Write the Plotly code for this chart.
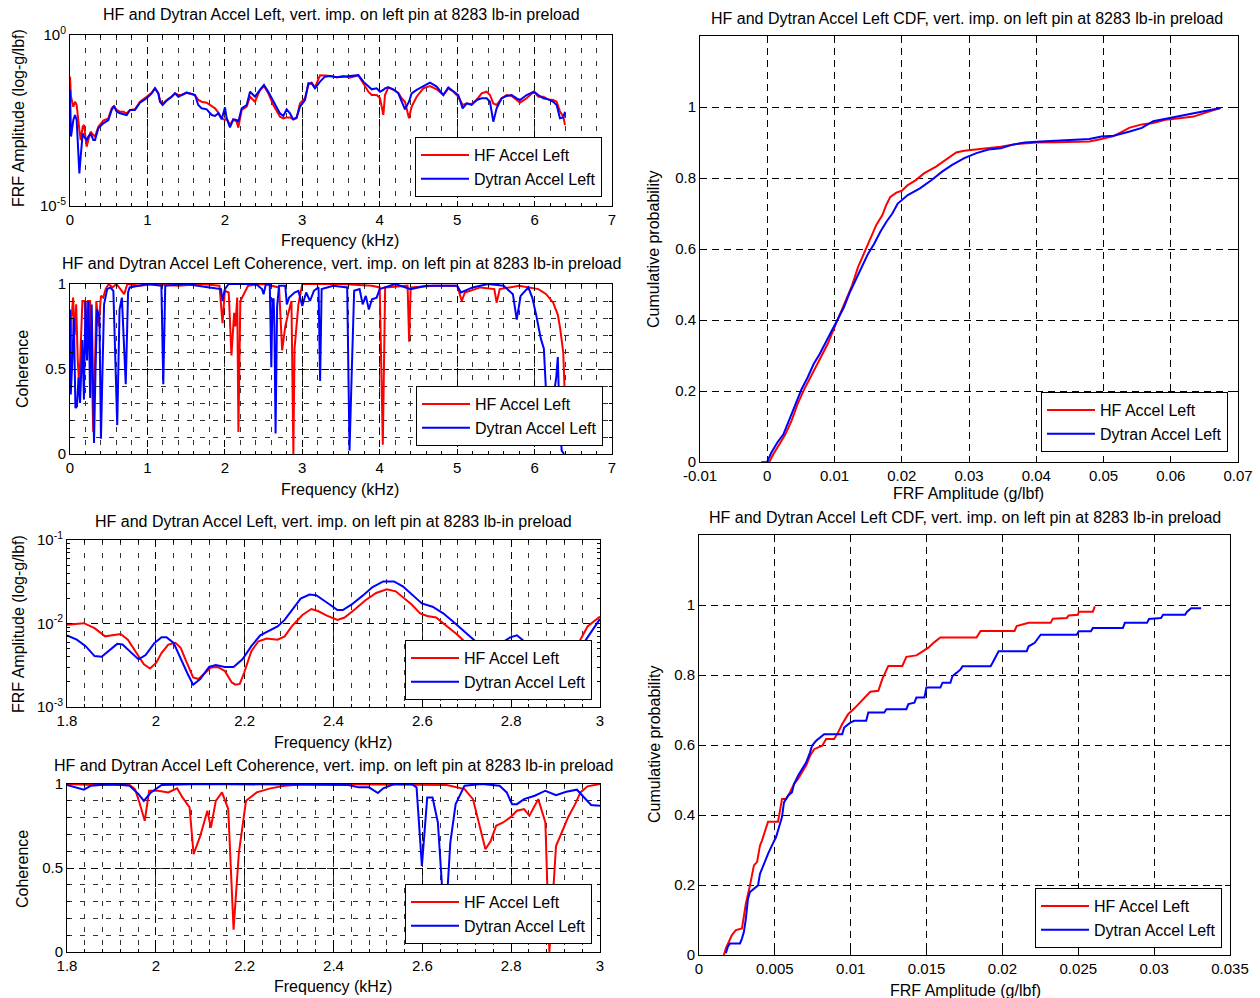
import plotly.graph_objects as go

W, H = 1260, 998
FONT = "Liberation Sans, Arial, Helvetica, sans-serif"
RED = "#ff0000"
BLUE = "#0000ff"
NAME_HF = "HF Accel Left"
NAME_DY = "Dytran Accel Left"
TITLE = "HF and Dytran Accel Left, vert. imp. on left pin at 8283 lb-in preload"
TITLE_COH = "HF and Dytran Accel Left Coherence, vert. imp. on left pin at 8283 lb-in preload"
TITLE_CDF = "HF and Dytran Accel Left CDF, vert. imp. on left pin at 8283 lb-in preload"

# ---------------- FRF magnitude, full band (kHz, g/lbf) ----------------
frf_freq = [0.000, 0.013, 0.043, 0.065, 0.086, 0.108, 0.121, 0.138, 0.164, 0.181,
            0.215, 0.237, 0.267, 0.301, 0.323, 0.366, 0.430, 0.495, 0.538, 0.568,
            0.603, 0.646, 0.689, 0.732, 0.775, 0.839, 0.904, 0.990, 1.055, 1.098,
            1.141, 1.162, 1.197, 1.248, 1.313, 1.356, 1.399, 1.442, 1.507, 1.571,
            1.614, 1.657, 1.700, 1.765, 1.830, 1.873, 1.916, 1.959, 2.002, 2.023,
            2.066, 2.109, 2.152, 2.174, 2.217, 2.282, 2.325, 2.368, 2.389, 2.454,
            2.505, 2.561, 2.626, 2.712, 2.755, 2.798, 2.841, 2.884, 2.927, 2.970,
            3.035, 3.078, 3.121, 3.164, 3.229, 3.293, 3.358, 3.444, 3.530, 3.616,
            3.724, 3.788, 3.853, 3.896, 3.961, 4.004, 4.047, 4.068, 4.111, 4.176,
            4.240, 4.283, 4.326, 4.378, 4.412, 4.477, 4.563, 4.649, 4.736, 4.822,
            4.886, 4.951, 5.015, 5.071, 5.123, 5.187, 5.252, 5.316, 5.381, 5.424,
            5.467, 5.510, 5.575, 5.639, 5.704, 5.769, 5.811, 5.897, 5.992, 6.048,
            6.113, 6.177, 6.242, 6.285, 6.328, 6.371, 6.393]
frf_hf = [0.0605, 0.0157, 0.0080, 0.0112, 0.0090, 0.00209, 0.00167, 0.00085, 0.00209, 0.00234,
          0.00054, 0.00085, 0.00149, 0.00119, 0.00107, 0.00209, 0.00313, 0.00366, 0.00717, 0.00839,
          0.00641, 0.00573, 0.00573, 0.00512, 0.00641, 0.00671, 0.0112, 0.0157, 0.0206, 0.0276,
          0.0197, 0.0126, 0.0096, 0.0126, 0.0157, 0.0197, 0.0176, 0.0176, 0.0206, 0.0188,
          0.0176, 0.0126, 0.0112, 0.0105, 0.00839, 0.00717, 0.00536, 0.00366, 0.00327, 0.00366,
          0.00234, 0.00342, 0.00292, 0.00195, 0.00641, 0.00802, 0.0157, 0.0126, 0.0112, 0.0247,
          0.0323, 0.0197, 0.0090, 0.0041, 0.00366, 0.0039, 0.0039, 0.0034, 0.0037, 0.0100,
          0.0141, 0.0345, 0.0404, 0.0295, 0.0660, 0.0650, 0.0633, 0.0578, 0.0633, 0.0565,
          0.0660, 0.0386, 0.0220, 0.0176, 0.0176, 0.0141, 0.00458, 0.0176, 0.0295, 0.0247,
          0.0206, 0.0141, 0.0112, 0.00366, 0.0080, 0.0157, 0.0276, 0.0323, 0.0258, 0.0176,
          0.0276, 0.0220, 0.0157, 0.0090, 0.0100, 0.0096, 0.0126, 0.0197, 0.0220, 0.0176,
          0.0100, 0.0090, 0.0141, 0.0176, 0.0165, 0.0126, 0.0105, 0.0141, 0.0220, 0.0157,
          0.0157, 0.0131, 0.0126, 0.0112, 0.00573, 0.0041, 0.00234]
frf_dytran = [0.0247, 0.00107, 0.00327, 0.00458, 0.00327, 0.00054, 0.00009, 0.00028, 0.00133, 0.00107,
              0.00085, 0.00107, 0.00133, 0.00085, 0.00085, 0.00187, 0.00261, 0.00327, 0.00641, 0.00839,
              0.00573, 0.00512, 0.00490, 0.00458, 0.00641, 0.00641, 0.0105, 0.0141, 0.0197, 0.0276,
              0.0197, 0.0112, 0.0090, 0.0120, 0.0157, 0.0197, 0.0157, 0.0176, 0.0206, 0.0188,
              0.0176, 0.0090, 0.00717, 0.00671, 0.00458, 0.00428, 0.00512, 0.00342, 0.00767, 0.00366,
              0.00200, 0.00342, 0.00327, 0.00292, 0.00717, 0.00898, 0.0220, 0.0176, 0.0157, 0.0247,
              0.0345, 0.0220, 0.0112, 0.0051, 0.00428, 0.0067, 0.0051, 0.0034, 0.0039, 0.0080,
              0.0126, 0.0386, 0.0386, 0.0276, 0.0432, 0.0605, 0.0633, 0.0578, 0.0605, 0.0633,
              0.0670, 0.0432, 0.0309, 0.0258, 0.0276, 0.0220, 0.0247, 0.0276, 0.0295, 0.0258,
              0.0197, 0.0112, 0.0067, 0.0112, 0.0197, 0.0247, 0.0309, 0.0404, 0.0309, 0.0176,
              0.0295, 0.0220, 0.0176, 0.00717, 0.0100, 0.0090, 0.0126, 0.0141, 0.0141, 0.0112,
              0.00292, 0.00717, 0.0141, 0.0165, 0.0176, 0.0141, 0.0126, 0.0176, 0.0220, 0.0176,
              0.0141, 0.0131, 0.0112, 0.0090, 0.00366, 0.0039, 0.00573]

# ---------------- Coherence, full band ----------------
coh_freq_hf = [0.00, 0.02, 0.04, 0.06, 0.08, 0.10, 0.12, 0.14, 0.16, 0.19,
               0.21, 0.23, 0.26, 0.28, 0.30, 0.32, 0.34, 0.37, 0.40, 0.43,
               0.46, 0.50, 0.55, 0.60, 0.65, 0.70, 0.74, 0.90, 1.10, 1.40,
               1.70, 1.93, 1.97, 2.00, 2.05, 2.085, 2.12, 2.135, 2.16, 2.175,
               2.20, 2.30, 2.50, 2.70, 2.74, 2.78, 2.82, 2.86, 2.885, 2.90,
               2.95, 3.00, 3.50, 3.90, 4.00, 4.04, 4.07, 4.36, 4.38, 4.40,
               4.70, 5.00, 5.06, 5.10, 5.30, 5.48, 5.51, 5.55, 5.80, 5.95,
               6.05, 6.15, 6.24, 6.30, 6.33, 6.37, 6.39, 6.40]
coh_hf = [0.45, 0.80, 0.92, 0.70, 0.88, 0.55, 0.40, 0.62, 0.90, 0.90,
          0.70, 0.90, 0.90, 0.55, 0.13, 0.45, 0.90, 0.75, 0.93, 0.92,
          0.97, 1.00, 0.98, 1.00, 0.97, 0.94, 1.00, 0.99, 1.00, 0.99,
          1.00, 0.99, 0.77, 0.96, 0.95, 0.58, 0.83, 0.75, 0.92, 0.13,
          0.90, 0.99, 1.00, 0.98, 0.61, 0.75, 0.83, 0.90, 0.00, 0.62,
          0.88, 1.00, 1.00, 0.99, 0.98, 0.055, 0.98, 0.99, 0.66, 0.98,
          0.99, 0.99, 0.90, 0.95, 0.98, 0.97, 0.89, 0.97, 0.99, 0.98,
          0.97, 0.94, 0.89, 0.82, 0.74, 0.60, 0.35, 0.05]
coh_freq_dy = [0.00, 0.01, 0.03, 0.05, 0.07, 0.09, 0.11, 0.13, 0.16, 0.18,
               0.20, 0.22, 0.24, 0.26, 0.28, 0.31, 0.33, 0.35, 0.38, 0.40,
               0.42, 0.44, 0.48, 0.52, 0.56, 0.61, 0.64, 0.67, 0.72, 0.75,
               0.77, 1.00, 1.18, 1.205, 1.23, 1.50, 1.80, 1.95, 1.97, 2.00,
               2.05, 2.40, 2.48, 2.50, 2.53, 2.58, 2.60, 2.615, 2.63, 2.64,
               2.655, 2.675, 2.70, 2.78, 2.80, 2.83, 2.90, 2.95, 3.00, 3.05,
               3.10, 3.15, 3.21, 3.23, 3.25, 3.40, 3.58, 3.61, 3.64, 3.67,
               3.74, 3.78, 3.82, 3.86, 3.90, 3.96, 4.00, 4.20, 4.40, 4.60,
               5.00, 5.05, 5.20, 5.40, 5.60, 5.72, 5.77, 5.82, 5.92, 5.97,
               6.02, 6.08, 6.12, 6.15, 6.20, 6.25, 6.28, 6.30, 6.32, 6.35,
               6.38]
coh_dy = [0.85, 0.35, 0.55, 0.80, 0.27, 0.28, 0.45, 0.30, 0.67, 0.32,
          0.90, 0.55, 0.90, 0.33, 0.88, 0.065, 0.50, 0.85, 0.80, 0.09,
          0.50, 0.88, 0.97, 0.98, 0.96, 0.17, 0.85, 0.92, 0.41, 0.95,
          0.98, 1.00, 0.99, 0.41, 0.99, 1.00, 0.98, 0.97, 0.90, 0.97,
          1.00, 1.00, 0.97, 0.94, 1.00, 1.00, 0.51, 0.91, 0.91, 0.75,
          0.12, 0.87, 0.99, 0.99, 0.88, 0.92, 0.95, 0.96, 0.87, 0.95,
          0.90, 0.96, 0.98, 0.43, 0.97, 0.99, 0.98, 0.02, 0.50, 0.96,
          0.97, 0.88, 0.93, 0.85, 0.91, 0.92, 0.97, 1.00, 0.97, 0.99,
          0.99, 0.95, 0.98, 1.00, 0.99, 0.94, 0.79, 0.93, 0.98, 0.92,
          0.82, 0.68, 0.62, 0.35, 0.20, 0.35, 0.45, 0.57, 0.25, 0.02,
          0.00]

# ---------------- FRF magnitude, 1.8-3 kHz band ----------------
zfrf_freq_hf = [1.800, 1.814, 1.838, 1.862, 1.886, 1.902, 1.921, 1.937, 1.953, 1.973,
                1.987, 2.001, 2.013, 2.028, 2.044, 2.056, 2.068, 2.084, 2.096, 2.108,
                2.124, 2.139, 2.155, 2.171, 2.179, 2.189, 2.199, 2.215, 2.231, 2.250,
                2.274, 2.290, 2.306, 2.330, 2.350, 2.365, 2.385, 2.409, 2.425, 2.449,
                2.472, 2.496, 2.520, 2.540, 2.560, 2.576, 2.595, 2.611, 2.631, 2.655,
                2.679, 2.702, 2.734, 2.774, 2.813, 2.853, 2.893, 2.924, 2.944, 2.972,
                3.000]
zfrf_hf = [0.00964, 0.00982, 0.01009, 0.00881, 0.00702, 0.00722, 0.00748, 0.00641, 0.00467, 0.00325,
           0.00289, 0.00340, 0.00446, 0.00560, 0.00586, 0.00511, 0.00356, 0.00226, 0.00216, 0.00247,
           0.00297, 0.00302, 0.00271, 0.00197, 0.00185, 0.00189, 0.00259, 0.00467, 0.00613, 0.00659,
           0.00641, 0.00702, 0.00922, 0.01266, 0.01490, 0.01411, 0.01243, 0.01105, 0.01178, 0.01490,
           0.01903, 0.02323, 0.02567, 0.02430, 0.01991, 0.01691, 0.01324, 0.01232, 0.01178, 0.00922,
           0.00735, 0.00560, 0.00489, 0.00407, 0.00372, 0.00356, 0.00340, 0.00390, 0.00489, 0.00922,
           0.01210]
zfrf_freq_dy = [1.800, 1.822, 1.842, 1.862, 1.878, 1.894, 1.913, 1.925, 1.941, 1.961,
                1.977, 1.997, 2.013, 2.024, 2.040, 2.056, 2.072, 2.084, 2.100, 2.120,
                2.135, 2.155, 2.175, 2.195, 2.215, 2.235, 2.258, 2.274, 2.290, 2.310,
                2.326, 2.346, 2.361, 2.385, 2.409, 2.421, 2.441, 2.465, 2.488, 2.512,
                2.536, 2.556, 2.576, 2.599, 2.623, 2.647, 2.671, 2.695, 2.718, 2.738,
                2.758, 2.778, 2.798, 2.813, 2.829, 2.849, 2.877, 2.909, 2.936, 2.956,
                2.980, 3.000]
zfrf_dy = [0.00722, 0.00641, 0.00535, 0.00407, 0.00400, 0.00467, 0.00570, 0.00560, 0.00467, 0.00372,
           0.00419, 0.00586, 0.00683, 0.00683, 0.00586, 0.00372, 0.00247, 0.00185, 0.00216, 0.00302,
           0.00319, 0.00302, 0.00302, 0.00372, 0.00535, 0.00722, 0.00841, 0.00922, 0.01105, 0.01518,
           0.01991, 0.02221, 0.02181, 0.01786, 0.01450, 0.01450, 0.01691, 0.02141, 0.02735, 0.03190,
           0.03190, 0.02786, 0.02221, 0.01738, 0.01587, 0.01324, 0.01037, 0.00804, 0.00613, 0.00502,
           0.00502, 0.00586, 0.00683, 0.00722, 0.00613, 0.00467, 0.00372, 0.00340, 0.00407, 0.00511,
           0.00804, 0.01135]

# ---------------- Coherence, 1.8-3 kHz band ----------------
zcoh_freq_hf = [1.800, 1.862, 1.941, 1.953, 1.963, 1.975, 1.985, 2.005, 2.028, 2.048,
                2.060, 2.076, 2.085, 2.100, 2.116, 2.124, 2.135, 2.149, 2.163, 2.175,
                2.187, 2.203, 2.227, 2.258, 2.290, 2.338, 2.655, 2.695, 2.714, 2.730,
                2.742, 2.754, 2.766, 2.782, 2.798, 2.813, 2.829, 2.841, 2.861, 2.877,
                2.886, 2.901, 2.917, 2.928, 2.944, 2.956, 2.972, 3.000]
zcoh_hf = [1.000, 0.994, 0.994, 0.970, 0.890, 0.781, 0.960, 0.960, 0.950, 0.974,
           0.920, 0.861, 0.582, 0.691, 0.841, 0.741, 0.900, 0.950, 0.851, 0.133,
           0.592, 0.900, 0.950, 0.974, 0.990, 1.000, 0.994, 0.970, 0.910, 0.731,
           0.612, 0.661, 0.751, 0.771, 0.801, 0.841, 0.851, 0.811, 0.910, 0.771,
           0.000, 0.631, 0.731, 0.801, 0.880, 0.950, 0.986, 1.000]
zcoh_freq_dy = [1.800, 1.818, 1.838, 1.854, 1.902, 1.941, 1.961, 1.973, 1.989, 2.013,
                2.100, 2.433, 2.457, 2.480, 2.500, 2.512, 2.536, 2.576, 2.587, 2.599,
                2.611, 2.623, 2.635, 2.651, 2.663, 2.675, 2.695, 2.734, 2.774, 2.790,
                2.802, 2.813, 2.829, 2.853, 2.877, 2.901, 2.924, 2.948, 2.964, 2.980,
                3.000]
zcoh_dy = [0.994, 0.980, 0.966, 0.990, 1.000, 0.990, 0.940, 0.900, 0.950, 0.994,
           1.000, 0.994, 0.980, 0.980, 0.946, 0.974, 1.000, 1.000, 0.980, 0.512,
           0.920, 0.920, 0.771, 0.120, 0.651, 0.880, 0.990, 1.000, 0.990, 0.950,
           0.880, 0.880, 0.910, 0.930, 0.960, 0.934, 0.954, 0.966, 0.920, 0.875,
           0.871]

# ---------------- Empirical CDF of FRF amplitude, full band ----------------
cdf_full_hf_amp = [-0.0009, 0.0003, 0.0009, 0.0018, 0.0027, 0.0036, 0.0045, 0.0054, 0.0063, 0.0072,
                   0.0081, 0.0090, 0.0099, 0.0108, 0.0117, 0.0126, 0.0135, 0.0144, 0.0153, 0.0162,
                   0.0171, 0.0177, 0.0183, 0.0192, 0.0200, 0.0209, 0.0221, 0.0233, 0.0251, 0.0266,
                   0.0281, 0.0293, 0.0317, 0.0347, 0.0371, 0.0401, 0.0431, 0.0455, 0.0479, 0.0497,
                   0.0515, 0.0539, 0.0557, 0.0574, 0.0592, 0.0616, 0.0634, 0.0658, 0.0674]
cdf_full_hf_p = [0.000, 0.000, 0.022, 0.050, 0.078, 0.116, 0.163, 0.201, 0.234, 0.267,
                 0.300, 0.333, 0.375, 0.417, 0.460, 0.497, 0.549, 0.587, 0.624, 0.667,
                 0.695, 0.724, 0.747, 0.759, 0.764, 0.780, 0.794, 0.813, 0.832, 0.851,
                 0.872, 0.877, 0.881, 0.888, 0.896, 0.900, 0.901, 0.903, 0.903, 0.910,
                 0.918, 0.942, 0.951, 0.955, 0.964, 0.969, 0.973, 0.988, 0.997]
cdf_full_dy_amp = [0.0000, 0.0006, 0.0015, 0.0024, 0.0033, 0.0042, 0.0051, 0.0060, 0.0069, 0.0078,
                   0.0087, 0.0096, 0.0105, 0.0114, 0.0123, 0.0132, 0.0141, 0.0150, 0.0159, 0.0168,
                   0.0177, 0.0186, 0.0194, 0.0209, 0.0227, 0.0245, 0.0260, 0.0275, 0.0293, 0.0311,
                   0.0329, 0.0347, 0.0365, 0.0383, 0.0407, 0.0431, 0.0455, 0.0479, 0.0497, 0.0515,
                   0.0539, 0.0557, 0.0574, 0.0598, 0.0622, 0.0646, 0.0674]
cdf_full_dy_p = [0.001, 0.026, 0.055, 0.078, 0.120, 0.163, 0.205, 0.238, 0.276, 0.304,
                 0.337, 0.370, 0.403, 0.436, 0.479, 0.516, 0.549, 0.587, 0.615, 0.648,
                 0.676, 0.700, 0.728, 0.752, 0.771, 0.795, 0.818, 0.837, 0.856, 0.870,
                 0.880, 0.884, 0.894, 0.900, 0.903, 0.906, 0.908, 0.910, 0.917, 0.919,
                 0.931, 0.941, 0.960, 0.969, 0.978, 0.988, 0.997]

# ---------------- Empirical CDF of FRF amplitude, 1.8-3 kHz band ----------------
cdf_zoom_hf_amp = [0.00164, 0.00177, 0.00217, 0.00243, 0.00283, 0.00296, 0.00309, 0.00336, 0.00349, 0.00362,
                   0.00383, 0.00402, 0.00415, 0.00441, 0.00455, 0.00521, 0.00534, 0.00547, 0.00574, 0.00600,
                   0.00627, 0.00653, 0.00679, 0.00706, 0.00732, 0.00759, 0.00812, 0.00838, 0.00891, 0.00917,
                   0.00944, 0.00983, 0.01023, 0.01063, 0.01102, 0.01129, 0.01182, 0.01208, 0.01248, 0.01340,
                   0.01367, 0.01433, 0.01459, 0.01512, 0.01552, 0.01591, 0.01829, 0.01856, 0.02080, 0.02094,
                   0.02173, 0.02318, 0.02332, 0.02424, 0.02437, 0.02498, 0.02503, 0.02596, 0.02609]
cdf_zoom_hf_p = [0.000, 0.019, 0.057, 0.071, 0.076, 0.114, 0.147, 0.199, 0.228, 0.256,
                 0.266, 0.313, 0.327, 0.365, 0.381, 0.381, 0.413, 0.446, 0.446, 0.465,
                 0.489, 0.503, 0.522, 0.541, 0.569, 0.588, 0.598, 0.617, 0.617, 0.636,
                 0.660, 0.688, 0.704, 0.721, 0.740, 0.752, 0.755, 0.788, 0.826, 0.826,
                 0.852, 0.856, 0.863, 0.878, 0.894, 0.907, 0.907, 0.926, 0.926, 0.940,
                 0.949, 0.949, 0.961, 0.963, 0.970, 0.972, 0.981, 0.981, 0.996]
cdf_zoom_dy_amp = [0.00177, 0.00190, 0.00204, 0.00270, 0.00283, 0.00296, 0.00309, 0.00323, 0.00336, 0.00362,
                   0.00389, 0.00402, 0.00428, 0.00455, 0.00481, 0.00508, 0.00534, 0.00547, 0.00560, 0.00587,
                   0.00613, 0.00627, 0.00653, 0.00679, 0.00706, 0.00732, 0.00745, 0.00772, 0.00798, 0.00825,
                   0.00944, 0.00957, 0.00997, 0.01023, 0.01102, 0.01116, 0.01221, 0.01235, 0.01367, 0.01380,
                   0.01420, 0.01433, 0.01486, 0.01499, 0.01591, 0.01605, 0.01657, 0.01671, 0.01697, 0.01724,
                   0.01737, 0.01922, 0.01935, 0.01961, 0.01975, 0.02160, 0.02173, 0.02213, 0.02226, 0.02252,
                   0.02490, 0.02503, 0.02583, 0.02596, 0.02794, 0.02807, 0.02953, 0.02966, 0.03045, 0.03059,
                   0.03204, 0.03217, 0.03244, 0.03310]
cdf_zoom_dy_p = [0.005, 0.024, 0.033, 0.033, 0.047, 0.066, 0.104, 0.161, 0.180, 0.190,
                 0.199, 0.232, 0.261, 0.289, 0.313, 0.337, 0.375, 0.394, 0.436, 0.455,
                 0.465, 0.489, 0.512, 0.531, 0.550, 0.579, 0.598, 0.612, 0.622, 0.631,
                 0.631, 0.650, 0.664, 0.669, 0.669, 0.693, 0.693, 0.702, 0.702, 0.717,
                 0.721, 0.736, 0.736, 0.764, 0.764, 0.778, 0.778, 0.797, 0.806, 0.816,
                 0.825, 0.825, 0.835, 0.854, 0.868, 0.868, 0.882, 0.892, 0.901, 0.915,
                 0.915, 0.925, 0.925, 0.934, 0.934, 0.949, 0.949, 0.960, 0.963, 0.972,
                 0.972, 0.981, 0.991, 0.991]

# ---------------- tick labels ----------------
khz_ticks = [0, 1, 2, 3, 4, 5, 6, 7]
zoom_khz_ticks = [1.8, 2.0, 2.2, 2.4, 2.6, 2.8, 3.0]
zoom_khz_labels = ["1.8", "2", "2.2", "2.4", "2.6", "2.8", "3"]
coh_ticks = [0, 0.5, 1]
coh_labels = ["0", "0.5", "1"]
prob_ticks = [0, 0.2, 0.4, 0.6, 0.8, 1.0]
prob_labels = ["0", "0.2", "0.4", "0.6", "0.8", "1"]
amp_full_ticks = [-0.01, 0, 0.01, 0.02, 0.03, 0.04, 0.05, 0.06, 0.07]
amp_full_labels = ["-0.01", "0", "0.01", "0.02", "0.03", "0.04", "0.05", "0.06", "0.07"]
amp_zoom_ticks = [0, 0.005, 0.01, 0.015, 0.02, 0.025, 0.03, 0.035]
amp_zoom_labels = ["0", "0.005", "0.01", "0.015", "0.02", "0.025", "0.03", "0.035"]

# ---------------- layout helpers (pixel geometry of each axes box) ----------------
BOXES = {
    1: (70, 612, 35, 206),
    2: (70, 612, 284, 454),
    3: (67, 600, 540, 707),
    4: (67, 600, 784, 952),
    5: (700, 1238, 36, 462),
    6: (699, 1230, 535, 955),
}


def xdom(n):
    l, r, _, _ = BOXES[n]
    return [l / W, r / W]


def ydom(n):
    _, _, t, b = BOXES[n]
    return [1 - b / H, 1 - t / H]


TICKFONT = dict(family=FONT, size=15, color="black")
MAJOR_DASH = "7px,5px"
MINOR_DASH = "5px,8px"


def base_axis(**kw):
    d = dict(showline=True, linecolor="black", linewidth=1, mirror="ticks",
             ticks="inside", ticklen=5, tickcolor="black", tickwidth=1,
             tickfont=TICKFONT, zeroline=False, showgrid=True, automargin=False,
             gridcolor="black", gridwidth=1, griddash=MAJOR_DASH)
    d.update(kw)
    return d


def minor(dtick, grid=True):
    return dict(dtick=dtick, ticks="inside", ticklen=3, tickcolor="black",
                showgrid=grid, gridcolor="#333333", gridwidth=1, griddash=MINOR_DASH)


def legend_box(right_px, bottom_px):
    return dict(x=right_px / W, y=1 - bottom_px / H, xanchor="right", yanchor="bottom",
                bgcolor="white", bordercolor="black", borderwidth=1,
                font=dict(family=FONT, size=16, color="black"),
                itemwidth=48, tracegroupgap=0, traceorder="normal")


fig = go.Figure()


def add_pair(n, x_hf, y_hf, x_dy, y_dy):
    xa = "x" if n == 1 else f"x{n}"
    ya = "y" if n == 1 else f"y{n}"
    lg = "legend" if n == 1 else f"legend{n}"
    fig.add_trace(go.Scatter(x=x_hf, y=y_hf, mode="lines", name=NAME_HF,
                             line=dict(color=RED, width=2), xaxis=xa, yaxis=ya, legend=lg))
    fig.add_trace(go.Scatter(x=x_dy, y=y_dy, mode="lines", name=NAME_DY,
                             line=dict(color=BLUE, width=2), xaxis=xa, yaxis=ya, legend=lg))


add_pair(1, frf_freq, frf_hf, frf_freq, frf_dytran)
add_pair(2, coh_freq_hf, coh_hf, coh_freq_dy, coh_dy)
add_pair(3, zfrf_freq_hf, zfrf_hf, zfrf_freq_dy, zfrf_dy)
add_pair(4, zcoh_freq_hf, zcoh_hf, zcoh_freq_dy, zcoh_dy)
add_pair(5, cdf_full_hf_amp, cdf_full_hf_p, cdf_full_dy_amp, cdf_full_dy_p)
add_pair(6, cdf_zoom_hf_amp, cdf_zoom_hf_p, cdf_zoom_dy_amp, cdf_zoom_dy_p)

layout = dict(
    template="none",
    width=W, height=H, margin=dict(l=0, r=0, t=0, b=0, autoexpand=False),
    paper_bgcolor="white", plot_bgcolor="white",
    font=dict(family=FONT, size=16, color="black"),
    # full-band FRF
    xaxis=base_axis(domain=xdom(1), anchor="y", range=[0, 7], tickvals=khz_ticks,
                    minor=minor(0.2)),
    yaxis=base_axis(domain=ydom(1), anchor="x", type="log", range=[-5, 0],
                    tickvals=[1e-5, 1], ticktext=["10<sup>-5</sup>", "10<sup>0</sup>"],
                    showgrid=False),
    # full-band coherence
    xaxis2=base_axis(domain=xdom(2), anchor="y2", range=[0, 7], tickvals=khz_ticks,
                     minor=minor(0.2)),
    yaxis2=base_axis(domain=ydom(2), anchor="x2", range=[0, 1], tickvals=coh_ticks,
                     ticktext=coh_labels, minor=minor(0.1)),
    # zoomed FRF
    xaxis3=base_axis(domain=xdom(3), anchor="y3", range=[1.8, 3.0], tickvals=zoom_khz_ticks,
                     ticktext=zoom_khz_labels, minor=minor(0.04)),
    yaxis3=base_axis(domain=ydom(3), anchor="x3", type="log", range=[-3, -1],
                     tickvals=[1e-3, 1e-2, 1e-1],
                     ticktext=["10<sup>-3</sup>", "10<sup>-2</sup>", "10<sup>-1</sup>"],
                     minor=dict(ticks="inside", ticklen=3, tickcolor="black", dtick="D1",
                                showgrid=False)),
    # zoomed coherence
    xaxis4=base_axis(domain=xdom(4), anchor="y4", range=[1.8, 3.0], tickvals=zoom_khz_ticks,
                     ticktext=zoom_khz_labels, minor=minor(0.04)),
    yaxis4=base_axis(domain=ydom(4), anchor="x4", range=[0, 1], tickvals=coh_ticks,
                     ticktext=coh_labels, minor=minor(0.1)),
    # CDF, full band
    xaxis5=base_axis(domain=xdom(5), anchor="y5", range=[-0.01, 0.07], tickvals=amp_full_ticks,
                     ticktext=amp_full_labels),
    yaxis5=base_axis(domain=ydom(5), anchor="x5", range=[0, 1.2], tickvals=prob_ticks,
                     ticktext=prob_labels),
    # CDF, zoomed band
    xaxis6=base_axis(domain=xdom(6), anchor="y6", range=[0, 0.035], tickvals=amp_zoom_ticks,
                     ticktext=amp_zoom_labels),
    yaxis6=base_axis(domain=ydom(6), anchor="x6", range=[0, 1.2], tickvals=prob_ticks,
                     ticktext=prob_labels),
    legend=legend_box(602, 197),
    legend2=legend_box(603, 446),
    legend3=legend_box(592, 700),
    legend4=legend_box(592, 944),
    legend5=legend_box(1228, 452),
    legend6=legend_box(1222, 948),
)
fig.update_layout(**layout)


def label(text, x_px, y_px, angle=0):
    fig.add_annotation(text=text, x=x_px / W, y=1 - y_px / H, xref="paper", yref="paper",
                       showarrow=False, textangle=angle, xanchor="center", yanchor="middle",
                       font=dict(family=FONT, size=16, color="black"))


# titles
label(TITLE, 341, 14)
label(TITLE_COH, 341, 263)
label(TITLE, 333, 521)
label(TITLE_COH, 333, 765)
label(TITLE_CDF, 967, 18)
label(TITLE_CDF, 965, 517)
# x-axis labels
label("Frequency (kHz)", 340, 240)
label("Frequency (kHz)", 340, 489)
label("Frequency (kHz)", 333, 742)
label("Frequency (kHz)", 333, 986)
label("FRF Amplitude (g/lbf)", 968, 494)
label("FRF Amplitude (g/lbf)", 965, 990)
# y-axis labels
label("FRF Amplitude (log-g/lbf)", 18, 118, -90)
label("Coherence", 22, 369, -90)
label("FRF Amplitude (log-g/lbf)", 18, 624, -90)
label("Coherence", 22, 869, -90)
label("Cumulative probability", 654, 250, -90)
label("Cumulative probability", 654, 745, -90)

fig.write_html("out.html")
